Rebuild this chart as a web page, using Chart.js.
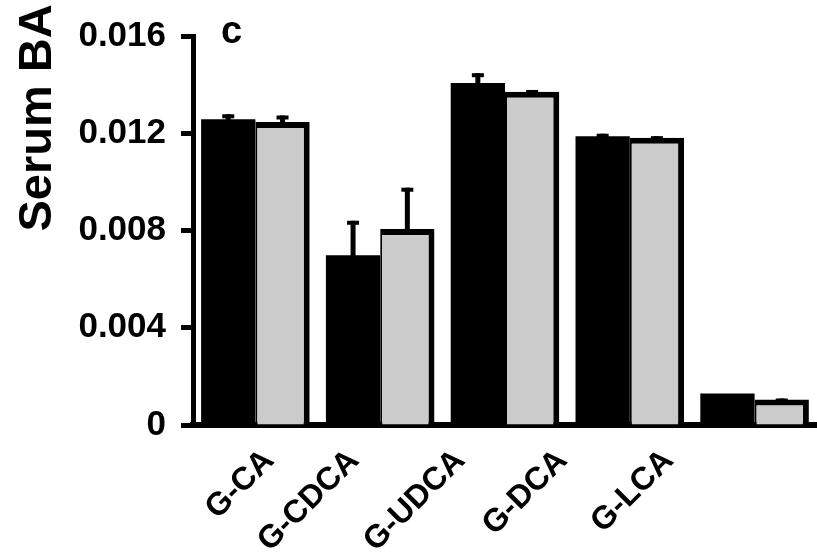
<!DOCTYPE html>
<html>
<head>
<meta charset="utf-8">
<script src="https://cdn.jsdelivr.net/npm/chart.js@4/dist/chart.umd.min.js"></script>
<style>
  html, body { margin: 0; padding: 0; background: #ffffff; }
  #wrap { width: 817px; height: 560px; position: relative; }
</style>
</head>
<body>
<div id="wrap"><canvas id="chart"></canvas></div>
<script>
// Glycine-conjugated bile acids in serum, two groups per acid
const categories = ['G-CA', 'G-CDCA', 'G-UDCA', 'G-DCA', 'G-LCA'];
const blackValues = [0.01258, 0.00698, 0.01407, 0.01188, 0.00130];
const blackErrors = [0.00020, 0.00142, 0.00040, 0.00010, 0];
const grayValues = [0.01246, 0.00806, 0.01371, 0.01181, 0.00105];
const grayErrors = [0.00027, 0.00170, 0.00007, 0.00007, 0.00004];
const yTicks = [0, 0.004, 0.008, 0.012, 0.016];

// Where each slanted category name ends along the axis, in category units
const labelAnchors = [0.11, 0.79, 1.64, 2.46, 3.31];

const FONT = "'Liberation Sans', Arial, sans-serif";

// Upper error bars: stem plus a flat cap, positioned from the y scale
const errorBars = {
  id: 'errorBars',
  afterDatasetsDraw(chart) {
    const ctx = chart.ctx;
    const y = chart.scales.y;
    chart.data.datasets.forEach((ds, di) => {
      const meta = chart.getDatasetMeta(di);
      meta.data.forEach((bar, i) => {
        const err = ds.errors[i];
        if (!err) return;
        const top = y.getPixelForValue(ds.data[i] + err);
        ctx.save();
        ctx.fillStyle = '#000000';
        ctx.fillRect(bar.x - 2.5, top, 5, bar.y - top + 1);
        ctx.fillRect(bar.x - 6, top, 12, 4);
        ctx.restore();
      });
    });
  }
};

// Rotated axis title and panel letter
const annotations = {
  id: 'annotations',
  afterDraw(chart) {
    const ctx = chart.ctx;
    ctx.save();
    ctx.fillStyle = '#000000';
    ctx.font = 'bold 47px ' + FONT;
    ctx.textAlign = 'center';
    ctx.textBaseline = 'alphabetic';
    ctx.translate(51, 118);
    ctx.rotate(-Math.PI / 2);
    ctx.fillText('Serum BA', 0, 0);
    ctx.restore();

    ctx.save();
    ctx.fillStyle = '#000000';
    ctx.font = 'bold 38px ' + FONT;
    ctx.textAlign = 'left';
    ctx.textBaseline = 'alphabetic';
    ctx.fillText('c', 221, 43);
    ctx.restore();
  }
};

new Chart(document.getElementById('chart'), {
  type: 'bar',
  data: {
    labels: categories,
    datasets: [
      {
        data: blackValues,
        errors: blackErrors,
        backgroundColor: '#000000',
        borderWidth: 0,
        barPercentage: 1.0,
        categoryPercentage: 0.87
      },
      {
        data: grayValues,
        errors: grayErrors,
        backgroundColor: '#cbcbcb',
        borderColor: '#000000',
        borderWidth: { top: 6, right: 6, left: 2, bottom: 0 },
        borderSkipped: 'start',
        barPercentage: 1.0,
        categoryPercentage: 0.87
      }
    ]
  },
  options: {
    responsive: true,
    maintainAspectRatio: false,
    animation: false,
    layout: { padding: { top: 27, right: 0, bottom: 0, left: 0 } },
    plugins: {
      legend: { display: false },
      tooltip: { enabled: false },
      title: { display: false }
    },
    scales: {
      x: {
        z: 1,
        weight: 0,
        grid: { display: false, drawTicks: false },
        border: { display: true, color: '#000000', width: 6 },
        ticks: { display: false },
        afterFit(scale) { scale.height = 0; }
      },
      names: {
        type: 'linear',
        position: 'bottom',
        weight: 1,
        offset: false,
        bounds: 'data',
        min: -0.5,
        max: 4.5,
        afterBuildTicks(scale) { scale.ticks = labelAnchors.map(v => ({ value: v })); },
        grid: { display: false, drawTicks: false, offset: false },
        border: { display: false },
        ticks: {
          color: '#000000',
          font: { family: FONT, size: 32, weight: 'bold' },
          minRotation: 45,
          maxRotation: 45,
          padding: 17,
          autoSkip: false,
          callback: (v, i) => categories[i]
        },
        afterFit(scale) { scale.height = 135; }
      },
      y: {
        min: 0,
        max: 0.016,
        afterBuildTicks(scale) { scale.ticks = yTicks.map(v => ({ value: v })); },
        grid: {
          drawOnChartArea: false,
          drawTicks: true,
          tickLength: 12,
          tickWidth: 5,
          tickColor: '#000000',
          color: '#000000'
        },
        border: { display: true, color: '#000000', width: 5 },
        ticks: {
          color: '#000000',
          font: { family: FONT, size: 35, weight: 'bold' },
          padding: 15,
          callback: v => (v === 0 ? '0' : v.toFixed(3))
        },
        afterFit(scale) { scale.width = 193; }
      }
    }
  },
  plugins: [errorBars, annotations]
});
</script>
</body>
</html>
